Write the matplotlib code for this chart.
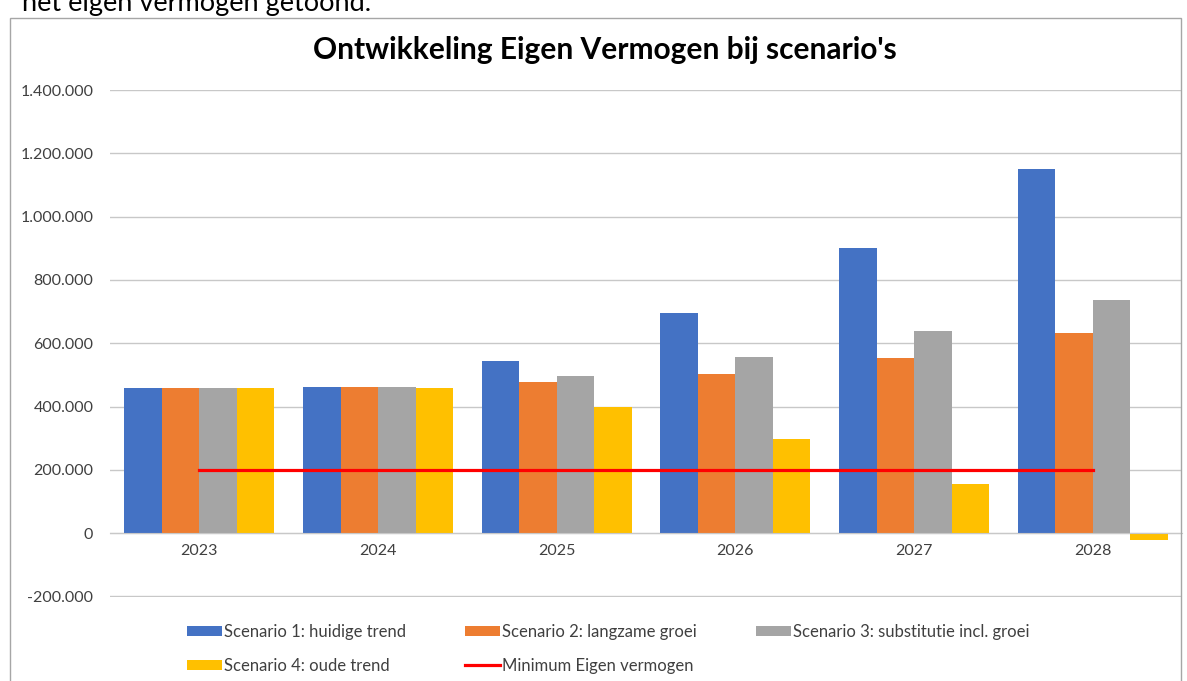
import matplotlib.pyplot as plt
import matplotlib.ticker as mticker
from matplotlib.patches import Rectangle
import numpy as np

# data
years = ['2023', '2024', '2025', '2026', '2027', '2028']
scenario_1 = [458000, 462000, 544000, 695000, 900000, 1151000]
scenario_2 = [458000, 462000, 476000, 503000, 553000, 632000]
scenario_3 = [458000, 462000, 495000, 556000, 638000, 736000]
scenario_4 = [457000, 457000, 400000, 298000, 155000, -23000]
minimum_ev = [200000, 200000, 200000, 200000, 200000, 200000]

labels = ['Scenario 1: huidige trend', 'Scenario 2: langzame groei',
          'Scenario 3: substitutie incl. groei', 'Scenario 4: oude trend']
colors = ['#4472C4', '#ED7D31', '#A5A5A5', '#FFC000']

plt.rcParams['font.family'] = ['Lato', 'DejaVu Sans']

fig = plt.figure(figsize=(11.87, 6.81), dpi=100)
ax = fig.add_axes([0.0927, 0.1233, 0.9031, 0.7445])

# outer chart border + clipped line of text above it
fig.patches.append(Rectangle((10 / 1187, -0.05), 1171 / 1187, 1.05 - 18 / 681,
                             transform=fig.transFigure, fill=False,
                             edgecolor='#a6a6a6', linewidth=1))
fig.text(22 / 1187, 1 - 11 / 681, 'het eigen vermogen getoond.', fontsize=19.5,
         va='baseline', ha='left', color='black')

x = np.arange(len(years))
width = 0.21
series = [scenario_1, scenario_2, scenario_3, scenario_4]
bars = []
for i, (vals, lab, col) in enumerate(zip(series, labels, colors)):
    b = ax.bar(x + (i - 1.5) * width, vals, width, color=col, label=lab, zorder=2)
    bars.append(b)

line, = ax.plot(x, minimum_ev, color='#FF0000', linewidth=2.3,
                label='Minimum Eigen vermogen', zorder=3)

# axes styling
ax.set_xlim(-0.5, len(years) - 0.5)
ax.set_ylim(-202000, 1400000)
ax.yaxis.set_major_locator(mticker.FixedLocator(np.arange(-200000, 1400001, 200000)))
ax.yaxis.set_major_formatter(mticker.FuncFormatter(lambda v, p: f'{int(round(v)):,}'.replace(',', '.')))
ax.grid(True, axis='y', color='#c8c8c8', linewidth=1, zorder=0)
ax.set_axisbelow(True)
for s in ['top', 'right', 'left']:
    ax.spines[s].set_visible(False)
ax.spines['bottom'].set_position(('data', 0))
ax.spines['bottom'].set_color('#c8c8c8')
ax.set_xticks(x)
ax.set_xticklabels(years)
ax.tick_params(axis='x', length=0, pad=8, labelsize=11.5, labelcolor='#404040')
ax.tick_params(axis='y', length=0, pad=12, labelsize=11.5, labelcolor='#404040')

fig.text(0.51, 1 - 50 / 681, "Ontwikkeling Eigen Vermogen bij scenario's",
         fontsize=21.5, fontweight='bold', ha='center', va='center')

# legend fills column-wise: 1,4 | 2,min | 3
handles = [bars[0], bars[3], bars[1], line, bars[2]]
leg_labels = [labels[0], labels[3], labels[1], 'Minimum Eigen vermogen', labels[2]]
fig.legend(handles, leg_labels, ncol=3,
           loc='upper left', bbox_to_anchor=(187 / 1187, 1 - 624 / 681),
           frameon=False, fontsize=12, borderpad=0, borderaxespad=0,
           handlelength=2.1, handleheight=0.6, handletextpad=0.12,
           columnspacing=3.55, labelspacing=1.08, labelcolor='#404040')

plt.savefig('out.png', dpi=100)
